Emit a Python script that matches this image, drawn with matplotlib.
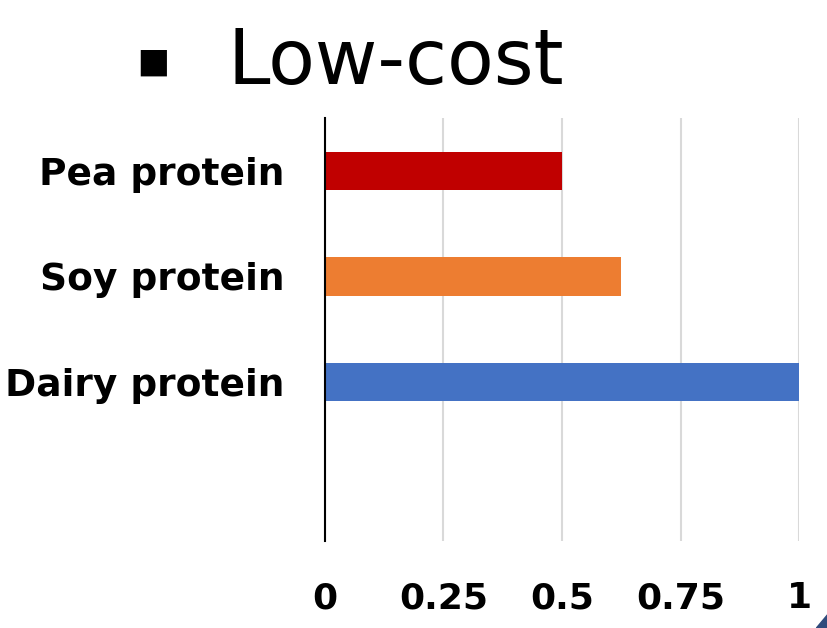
import matplotlib.pyplot as plt
from matplotlib.patches import Polygon

# categories from top to bottom, last slot is empty in the original
categories = ["Pea protein", "Soy protein", "Dairy protein", ""]
values = [0.5, 0.625, 1.0, 0]
colors = ["#C00000", "#ED7D31", "#4472C4", "none"]
xticks = [0, 0.25, 0.5, 0.75, 1]
xticklabels = ["0", "0.25", "0.5", "0.75", "1"]


def main():
	fig = plt.figure(figsize=(8.28, 6.28), dpi=100)
	ax = fig.add_axes([0.3925, 0.1385, 0.5725, 0.674])

	pos = list(range(len(categories)))
	ax.barh(pos, values, height=0.36, color=colors, zorder=3)
	ax.set_ylim(len(categories) - 0.5, -0.5)
	ax.set_xlim(0, 1)

	ax.set_yticks(pos[:3])
	ax.set_yticklabels(categories[:3], fontsize=27, fontweight="bold")
	ax.set_xticks(xticks)
	ax.set_xticklabels(xticklabels, fontsize=26, fontweight="bold")
	ax.tick_params(axis="both", length=0)
	ax.tick_params(axis="y", pad=29)
	ax.tick_params(axis="x", pad=29)

	# grid
	ax.grid(axis="x", color="#D9D9D9", linewidth=1.5, zorder=0)
	for s in ["top", "right", "bottom"]:
		ax.spines[s].set_visible(False)
	ax.spines["left"].set_color("black")
	ax.spines["left"].set_linewidth(1.5)
	ax.spines["left"].set_zorder(4)

	# title with bullet
	fig.text(0.163, 0.902, "\u25aa", fontsize=38, va="center", ha="left")
	fig.text(0.275, 0.9, "Low-cost", fontsize=55, va="center", ha="left")

	# small corner triangle
	tri = Polygon([[1.0, 0.0], [1.0, 0.022], [0.986, 0.0]], closed=True,
		transform=fig.transFigure, color="#2F4B7C")
	fig.patches.append(tri)

	fig.savefig("out.png", dpi=100)


if __name__ == "__main__":
	main()
